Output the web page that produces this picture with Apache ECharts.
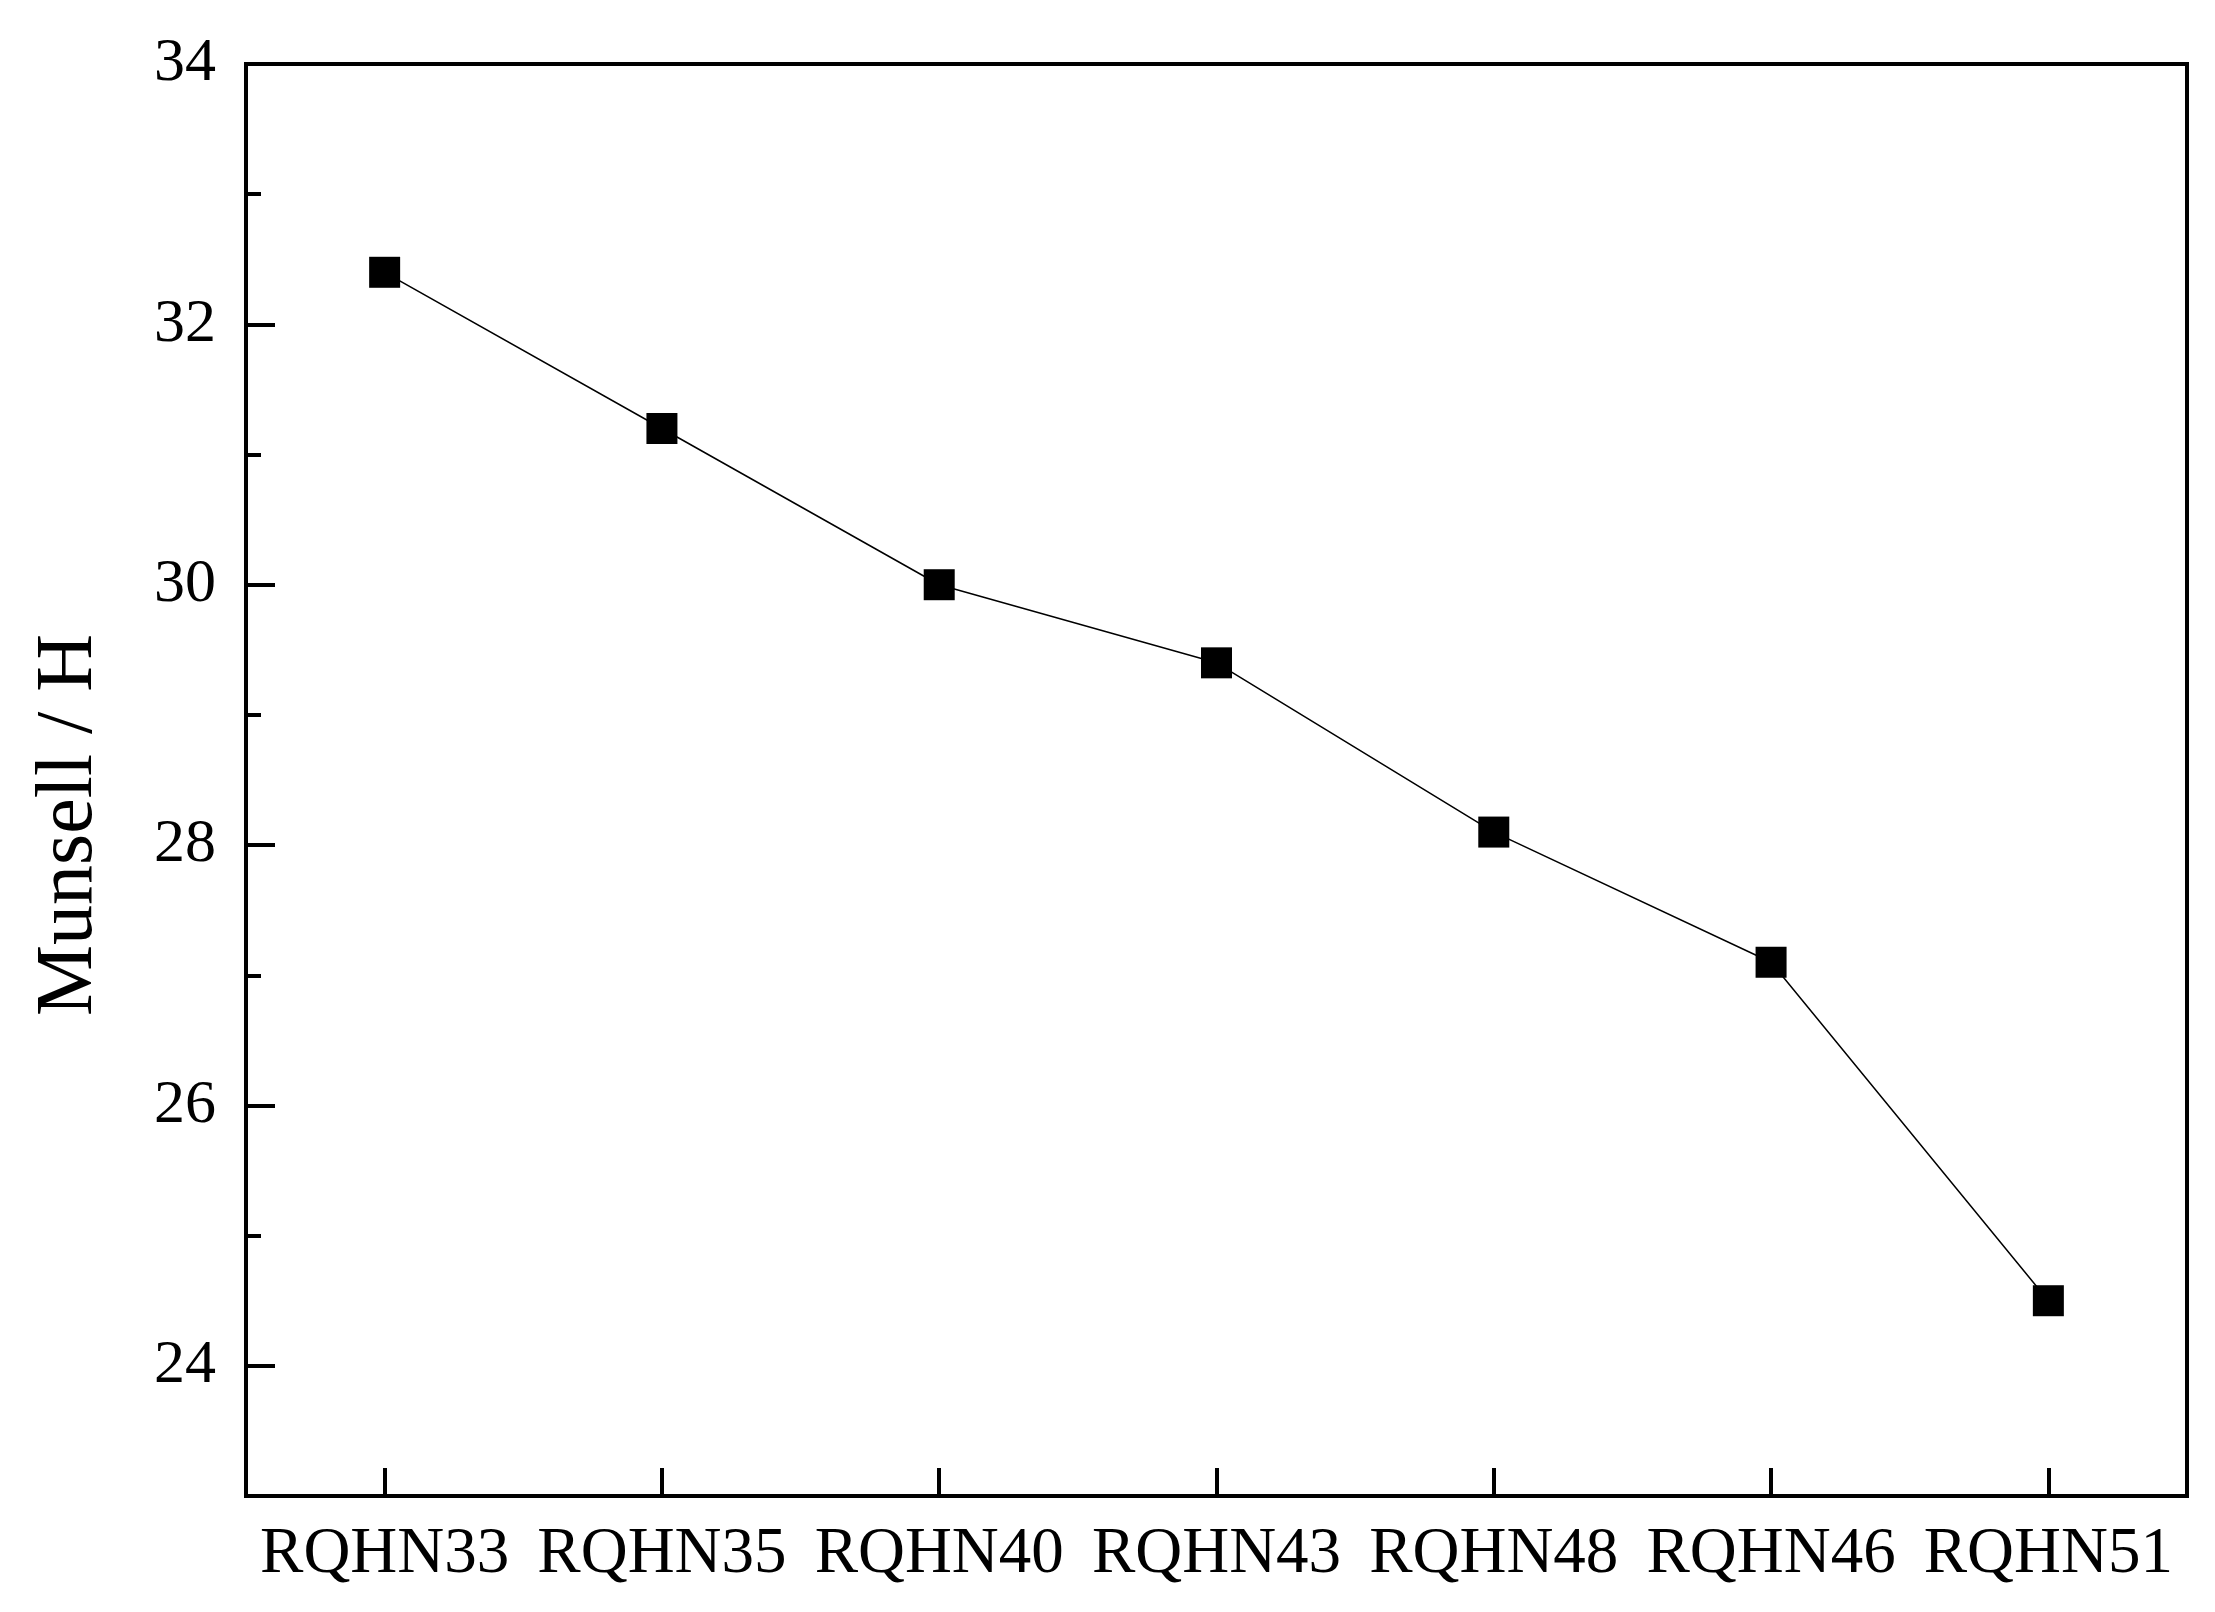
<!DOCTYPE html>
<html>
<head>
<meta charset="utf-8">
<title>Munsell H</title>
<script src="https://cdn.jsdelivr.net/npm/echarts@6/dist/echarts.min.js"></script>
<style>
  html, body { margin: 0; padding: 0; background: #fff; }
  #chart { width: 2215px; height: 1612px; }
</style>
</head>
<body>
<div id="chart"></div>
<script>
// sample names along x
var categories = ["RQHN33", "RQHN35", "RQHN40", "RQHN43", "RQHN48", "RQHN46", "RQHN51"];
// Munsell hue values
var hueValues = [32.4, 31.2, 30.0, 29.4, 28.1, 27.1, 24.5];
// labelled (major) ticks and the small ones between them
var majorTicks = [24, 26, 28, 30, 32, 34];
var minorTicks = [25, 27, 29, 31, 33];

var fontName = "Liberation Serif";
var chart = echarts.init(document.getElementById("chart"));

var option = {
  backgroundColor: "#fff",
  animation: false,
  grid: {
    left: 246,
    right: 28,
    top: 64,
    bottom: 116,
    show: true,
    borderColor: "#000",
    borderWidth: 4
  },
  xAxis: {
    type: "category",
    data: categories,
    boundaryGap: true,
    axisLine: { show: true, lineStyle: { color: "#000", width: 4 } },
    axisTick: { show: true, inside: true, alignWithLabel: true, length: 28, lineStyle: { color: "#000", width: 4 } },
    axisLabel: { color: "#000", fontFamily: fontName, fontSize: 65, margin: 26, interval: 0 },
    splitLine: { show: false }
  },
  yAxis: [
    {
      type: "value",
      min: 23,
      max: 34,
      interval: 1,
      name: "Munsell / H",
      nameLocation: "middle",
      nameGap: 136,
      nameTextStyle: { color: "#000", fontFamily: fontName, fontSize: 80, padding: [0, 90, 0, 0] },
      axisLine: { show: true, lineStyle: { color: "#000", width: 4 } },
      axisTick: { show: true, inside: true, length: 29, customValues: majorTicks, lineStyle: { color: "#000", width: 4 } },
      axisLabel: {
        color: "#000", fontFamily: fontName, fontSize: 62, margin: 30,
        customValues: majorTicks, padding: [0, 0, 18, 0]
      },
      splitLine: { show: false }
    },
    {
      // second copy of the axis only for the short ticks
      type: "value",
      min: 23,
      max: 34,
      interval: 1,
      position: "left",
      axisLine: { show: false },
      axisTick: { show: true, inside: true, length: 15, customValues: minorTicks, lineStyle: { color: "#000", width: 4 } },
      axisLabel: { show: false },
      splitLine: { show: false }
    }
  ],
  series: [
    {
      type: "line",
      data: hueValues,
      yAxisIndex: 0,
      symbol: "rect",
      symbolSize: 31,
      itemStyle: { color: "#000" },
      lineStyle: { color: "#000", width: 1.5 }
    }
  ]
};

chart.setOption(option);
</script>
</body>
</html>
